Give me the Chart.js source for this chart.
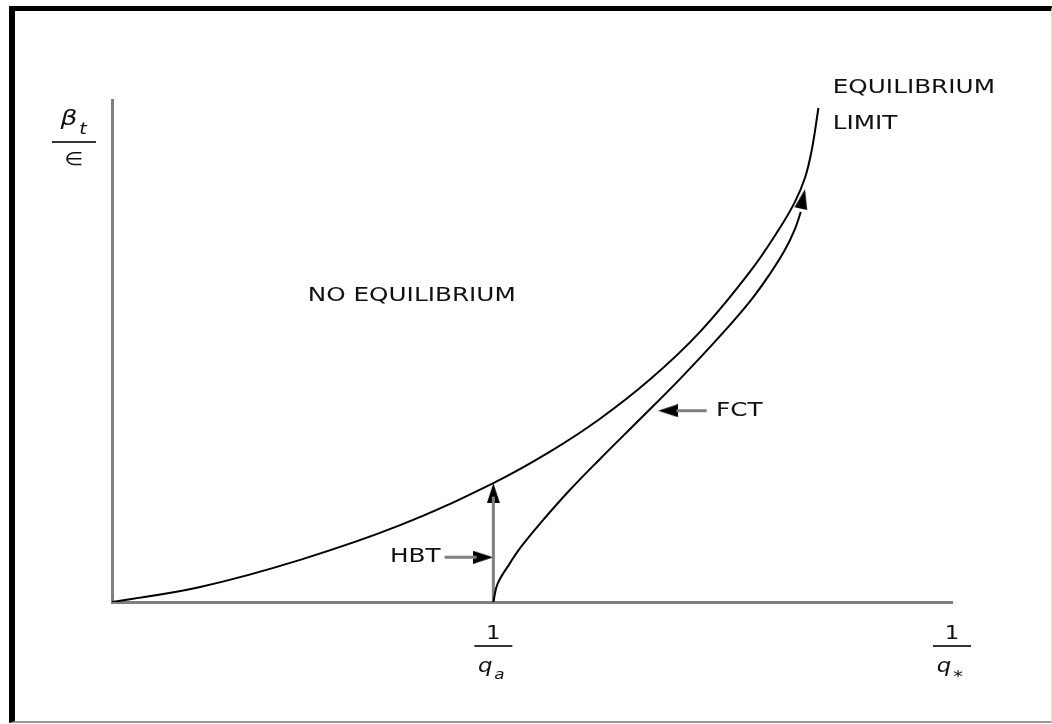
<!DOCTYPE html>
<html lang="en">
<head>
  <meta charset="UTF-8" />
  <title>Equilibrium limit</title>
  <script src="https://cdn.jsdelivr.net/npm/chart.js"></script>
  <style>
    html, body { margin: 0; padding: 0; background: #fff; }
    #wrap { position: relative; width: 1052px; height: 724px; }
    #frame {
      position: absolute; left: 9px; top: 6px; right: 0; bottom: 1px;
      border-left: 6px solid #000; border-top: 5px solid #000;
      border-right: 1px solid #ddd; border-bottom: 2px solid #999;
    }
    canvas { position: absolute; left: 0; top: 0; }
  </style>
</head>
<body>
  <div id="wrap">
    <div id="frame"></div>
    <canvas id="chart" width="1052" height="724"></canvas>
  </div>

  <script>
    // equilibrium limit curve
    const eqX = [0, 10.5, 22.4, 34.3, 45.4, 52.1, 58.1, 64.1, 70.0, 76.0, 79.5, 81.3, 82.5, 83.3, 84.1];
    const eqY = [0, 3.0, 8.4, 15.3, 23.7, 29.9, 36.5, 44.4, 53.8, 65.9, 74.5, 79.7, 84.5, 90.0, 98.4];

    // FCT path (ends under its arrowhead)
    const fctX = [45.4, 45.9, 47.4, 48.6, 51.0, 54.5, 58.1, 62.9, 67.6, 72.4, 76.0, 78.3, 80.1, 81.3, 82.0];
    const fctY = [0, 3.6, 7.8, 10.8, 15.7, 22.3, 28.5, 36.5, 44.4, 53.0, 60.0, 65.3, 70.1, 74.3, 77.7];

    // HBT vertical path at 1/q_a
    const qa = 45.4;
    const hbtY = [0, 21.0];

    // short pointer shafts next to the labels
    const hbtPtrX = [39.6, 43.4];
    const hbtPtrY = 8.9;
    const fctPtrX = [67.2, 70.8];
    const fctPtrY = 38.1;

    // arrowheads: position and direction (degrees, 0 = up)
    const arrowX = [45.4, 44.2, 66.2, 82.25];
    const arrowY = [21.7, 8.9, 38.1, 80.3];
    const arrowAngle = [0, 90, -90, 12];

    // text labels
    const labelText = ['NO EQUILIBRIUM', 'EQUILIBRIUM', 'LIMIT', 'HBT', 'FCT'];
    const labelX = [23.3, 85.8, 85.8, 33.1, 71.9];
    const labelY = [60.9, 102.4, 95.2, 8.9, 38.1];

    // x axis marks (fractions 1/q)
    const xTickValues = [45.4, 100];
    const xTickSubs = ['a', '*'];

    const SX = 1.3; // the original lettering is drawn wide
    const AXIS = '#808080';

    function toPts(xs, ys) {
      return xs.map((x, i) => ({ x: x, y: ys[i] }));
    }

    // slim filled arrowhead, pointing up
    const head = document.createElement('canvas');
    head.width = 13;
    head.height = 20;
    const hctx = head.getContext('2d');
    hctx.fillStyle = '#000';
    hctx.beginPath();
    hctx.moveTo(6.5, 0);
    hctx.lineTo(13, 20);
    hctx.lineTo(0, 20);
    hctx.closePath();
    hctx.fill();

    function wideText(ctx, text, px, py, font, align, sx) {
      ctx.save();
      ctx.translate(px, py);
      ctx.scale(sx || SX, 1);
      ctx.font = font;
      ctx.textAlign = align;
      ctx.fillText(text, 0, 0);
      ctx.restore();
    }

    const textPlugin = {
      id: 'texts',
      afterDatasetsDraw(chart) {
        const { ctx, scales: { x, y } } = chart;
        ctx.save();
        ctx.fillStyle = '#111';
        ctx.textBaseline = 'middle';
        labelText.forEach((t, i) => {
          wideText(ctx, t, x.getPixelForValue(labelX[i]), y.getPixelForValue(labelY[i]), '19px "DejaVu Sans"', 'left');
        });

        // x marks: 1 over q_sub
        const base = y.getPixelForValue(0);
        xTickValues.forEach((v, i) => {
          const cx = x.getPixelForValue(v);
          ctx.textBaseline = 'alphabetic';
          wideText(ctx, '1', cx, base + 37, '19px "DejaVu Sans"', 'center', 1.2);
          ctx.strokeStyle = '#333';
          ctx.lineWidth = 2;
          ctx.beginPath();
          ctx.moveTo(cx - 19, base + 44);
          ctx.lineTo(cx + 19, base + 44);
          ctx.stroke();
          wideText(ctx, 'q', cx - 8, base + 70, 'italic 19px "DejaVu Sans"', 'center', 1.2);
          if (xTickSubs[i] === '*') {
            wideText(ctx, '*', cx + 6, base + 80, '16px "DejaVu Sans"', 'center', 1.2);
          } else {
            wideText(ctx, xTickSubs[i], cx + 6, base + 77, 'italic 14px "DejaVu Sans"', 'center', 1.2);
          }
        });

        // y label: beta_t over epsilon
        const lx = x.getPixelForValue(0) - 38;
        ctx.textBaseline = 'alphabetic';
        wideText(ctx, '\u03b2', lx - 5, 125, 'italic 22px "DejaVu Sans"', 'center', 1.2);
        wideText(ctx, 't', lx + 9, 134, 'italic 16px "DejaVu Sans"', 'center', 1.2);
        ctx.strokeStyle = '#333';
        ctx.lineWidth = 2;
        ctx.beginPath();
        ctx.moveTo(lx - 22, 142);
        ctx.lineTo(lx + 22, 142);
        ctx.stroke();
        wideText(ctx, '\u2208', lx, 165, '18px "DejaVu Sans"', 'center', 1.2);
        ctx.restore();
      }
    };

    const curve = {
      showLine: true,
      borderColor: '#000',
      borderWidth: 2,
      pointRadius: 0,
      tension: 0.4
    };
    const shaft = {
      showLine: true,
      borderColor: AXIS,
      borderWidth: 3,
      pointRadius: 0
    };

    new Chart(document.getElementById('chart'), {
      type: 'scatter',
      data: {
        datasets: [
          Object.assign({ label: 'Equilibrium limit', data: toPts(eqX, eqY) }, curve),
          Object.assign({ label: 'FCT', data: toPts(fctX, fctY) }, curve),
          Object.assign({ label: 'HBT', data: toPts([qa, qa], hbtY) }, shaft),
          Object.assign({ label: 'HBT pointer', data: toPts(hbtPtrX, [hbtPtrY, hbtPtrY]) }, shaft),
          Object.assign({ label: 'FCT pointer', data: toPts(fctPtrX, [fctPtrY, fctPtrY]) }, shaft),
          {
            label: 'Arrowheads',
            data: toPts(arrowX, arrowY),
            showLine: false,
            pointStyle: head,
            rotation: arrowAngle,
            pointRadius: 10,
            clip: false
          }
        ]
      },
      options: {
        responsive: false,
        animation: false,
        devicePixelRatio: 1,
        layout: { padding: { left: 112, right: 100, top: 100, bottom: 122 } },
        plugins: {
          legend: { display: false },
          tooltip: { enabled: false }
        },
        scales: {
          x: {
            type: 'linear', min: 0, max: 100,
            grid: { display: false, drawTicks: false },
            ticks: { display: false },
            border: { display: true, color: AXIS, width: 3 }
          },
          y: {
            type: 'linear', min: 0, max: 100,
            grid: { display: false, drawTicks: false },
            ticks: { display: false },
            border: { display: true, color: AXIS, width: 3 }
          }
        }
      },
      plugins: [textPlugin]
    });
  </script>
</body>
</html>
